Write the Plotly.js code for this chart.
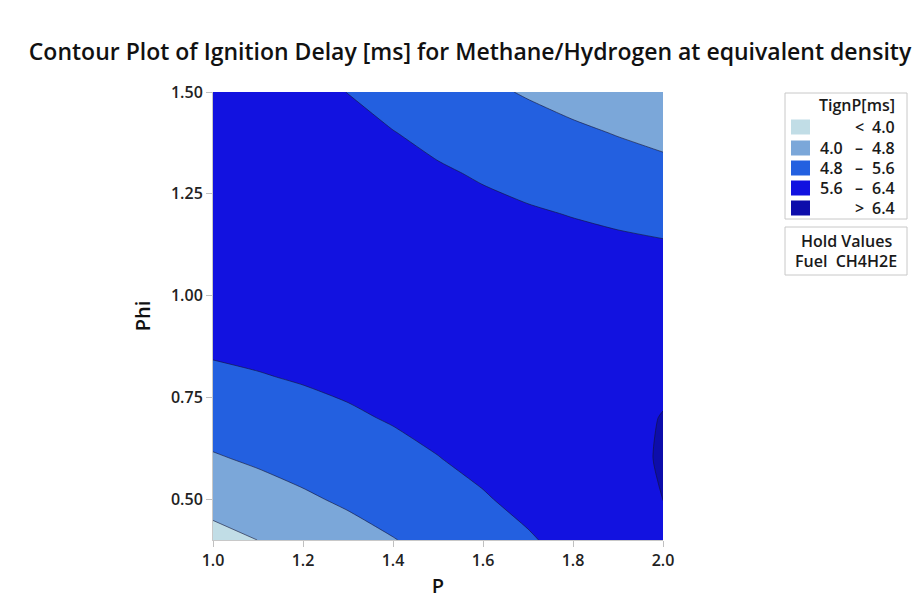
<!DOCTYPE html>
<html>
<head>
<meta charset="utf-8">
<script src="https://cdn.plot.ly/plotly-3.0.1.min.js"></script>
<style>html,body{margin:0;padding:0;background:#fff;}#chart{width:915px;height:615px;}</style>
</head>
<body>
<div id="chart"></div>
<script>
// ---- data ----
var pValues = [1.0, 1.1, 1.2, 1.3, 1.4, 1.5, 1.6, 1.7, 1.8, 1.9, 2.0];
var phiValues = [0.4, 0.5, 0.6, 0.7, 0.8, 0.9, 1.0, 1.1, 1.2, 1.3, 1.4, 1.5];
// TignP [ms], one row per Phi value, one column per P value
var tignP = [
  [3.749, 4.005, 4.261, 4.517, 4.773, 5.028, 5.284, 5.540, 5.796, 6.052, 6.308],
  [4.271, 4.484, 4.697, 4.910, 5.123, 5.337, 5.550, 5.763, 5.976, 6.189, 6.403],
  [4.733, 4.903, 5.074, 5.244, 5.415, 5.585, 5.756, 5.926, 6.097, 6.267, 6.438],
  [5.136, 5.264, 5.392, 5.519, 5.647, 5.775, 5.903, 6.031, 6.159, 6.286, 6.414],
  [5.480, 5.565, 5.650, 5.735, 5.820, 5.906, 5.991, 6.076, 6.161, 6.246, 6.331],
  [5.765, 5.807, 5.849, 5.892, 5.934, 5.977, 6.019, 6.062, 6.104, 6.147, 6.189],
  [5.990, 5.990, 5.990, 5.989, 5.989, 5.989, 5.989, 5.989, 5.988, 5.988, 5.988],
  [6.156, 6.113, 6.071, 6.028, 5.985, 5.942, 5.899, 5.856, 5.813, 5.770, 5.727],
  [6.263, 6.178, 6.092, 6.007, 5.921, 5.836, 5.750, 5.664, 5.579, 5.493, 5.408],
  [6.311, 6.183, 6.055, 5.927, 5.798, 5.670, 5.542, 5.414, 5.285, 5.157, 5.029],
  [6.300, 6.129, 5.958, 5.787, 5.616, 5.445, 5.274, 5.104, 4.933, 4.762, 4.591],
  [6.230, 6.016, 5.802, 5.589, 5.375, 5.162, 4.948, 4.734, 4.521, 4.307, 4.094]
];
var contourLevels = [4.0, 4.8, 5.6, 6.4];
var bandColors = ['#c1dde6', '#7ba7d9', '#2360e0', '#1212e0', '#0d0dab'];
var legendLow = ['', '4.0', '4.8', '5.6', ''];
var legendSep = ['<', '\u2013', '\u2013', '\u2013', '>'];
var legendHigh = ['4.0', '4.8', '5.6', '6.4', '6.4'];
var xTicks = [1.0, 1.2, 1.4, 1.6, 1.8, 2.0];
var yTicks = [0.5, 0.75, 1.0, 1.25, 1.5];

// ---- layout helpers ----
var W = 915, H = 615;
var L = 213, R = 663, T = 92, B = 540;
function px(x) { return (x - L) / (R - L); }
function py(y) { return (B - y) / (B - T); }

var FONT = 'Open Sans, Noto Sans, sans-serif';
var colorscale = bandColors.map(function (c, i) { return [i / (bandColors.length - 1), c]; });
var step = contourLevels[1] - contourLevels[0];

var trace = {
  type: 'contour',
  x: pValues,
  y: phiValues,
  z: tignP,
  colorscale: colorscale,
  showscale: false,
  autocontour: false,
  contours: {
    start: contourLevels[0],
    end: contourLevels[contourLevels.length - 1],
    size: step,
    coloring: 'fill',
    showlines: true
  },
  line: { color: 'rgba(20,20,50,0.85)', width: 0.7, smoothing: 0.6 },
  hoverinfo: 'skip'
};

var shapes = [];
var annotations = [];
var legFont = { family: FONT, size: 16, color: '#1a1a1a', weight: 600 };
// legend box
shapes.push({ type: 'rect', xref: 'paper', yref: 'paper', x0: px(785), x1: px(907), y0: py(93), y1: py(219),
  line: { color: '#c8c8c8', width: 1 }, fillcolor: 'rgba(0,0,0,0)' });
annotations.push({ xref: 'paper', yref: 'paper', x: px(897), y: py(105), xanchor: 'right', yanchor: 'middle',
  text: 'TignP[ms]', showarrow: false, font: legFont });
var rowY = [127, 148, 168, 188, 208];
for (var i = 0; i < bandColors.length; i++) {
  var yc = rowY[i];
  shapes.push({ type: 'rect', xref: 'paper', yref: 'paper', x0: px(791), x1: px(810), y0: py(yc + 7.5), y1: py(yc - 7.5),
    line: { width: 0 }, fillcolor: bandColors[i] });
  if (legendLow[i]) annotations.push({ xref: 'paper', yref: 'paper', x: px(818), y: py(yc), xanchor: 'left', yanchor: 'middle', text: legendLow[i], showarrow: false, font: legFont });
  annotations.push({ xref: 'paper', yref: 'paper', x: px(859), y: py(yc), xanchor: 'center', yanchor: 'middle', text: legendSep[i], showarrow: false, font: legFont });
  annotations.push({ xref: 'paper', yref: 'paper', x: px(897), y: py(yc), xanchor: 'right', yanchor: 'middle', text: legendHigh[i], showarrow: false, font: legFont });
}
// hold values box
shapes.push({ type: 'rect', xref: 'paper', yref: 'paper', x0: px(785), x1: px(907), y0: py(227), y1: py(275),
  line: { color: '#c8c8c8', width: 1 }, fillcolor: 'rgba(0,0,0,0)' });
annotations.push({ xref: 'paper', yref: 'paper', x: px(846), y: py(241), xanchor: 'center', yanchor: 'middle',
  text: 'Hold Values', showarrow: false, font: legFont });
annotations.push({ xref: 'paper', yref: 'paper', x: px(846), y: py(261), xanchor: 'center', yanchor: 'middle',
  text: 'Fuel  CH4H2E', showarrow: false, font: legFont });

var layout = {
  width: W, height: H,
  margin: { l: L, r: W - R, t: T, b: H - B, pad: 0 },
  paper_bgcolor: '#ffffff', plot_bgcolor: '#ffffff',
  title: { text: 'Contour Plot of Ignition Delay [ms] for Methane/Hydrogen at equivalent density',
    x: 470 / W, xanchor: 'center', y: 1 - 52 / H, yanchor: 'middle',
    font: { family: FONT, size: 23, color: '#111111', weight: 600 } },
  xaxis: {
    range: [pValues[0], pValues[pValues.length - 1]],
    tickvals: xTicks, tickformat: '.1f',
    ticks: 'outside', ticklen: 6, tickcolor: '#c0c0c0',
    showline: true, linecolor: '#c8c8c8', linewidth: 1,
    showgrid: false, zeroline: false,
    tickfont: { family: FONT, size: 16, color: '#222222', weight: 600 },
    title: { text: 'P', font: { family: FONT, size: 20, color: '#111111', weight: 600 }, standoff: 8 }
  },
  yaxis: {
    range: [phiValues[0], phiValues[phiValues.length - 1]],
    tickvals: yTicks, tickformat: '.2f',
    ticks: 'outside', ticklen: 6, tickcolor: '#c0c0c0',
    showline: true, linecolor: '#c8c8c8', linewidth: 1,
    showgrid: false, zeroline: false,
    tickfont: { family: FONT, size: 16, color: '#222222', weight: 600 },
    title: { text: 'Phi', font: { family: FONT, size: 20, color: '#111111', weight: 600 }, standoff: 14 }
  },
  shapes: shapes,
  annotations: annotations,
  showlegend: false
};

Plotly.newPlot('chart', [trace], layout, { staticPlot: true, displayModeBar: false });
</script>
</body>
</html>
